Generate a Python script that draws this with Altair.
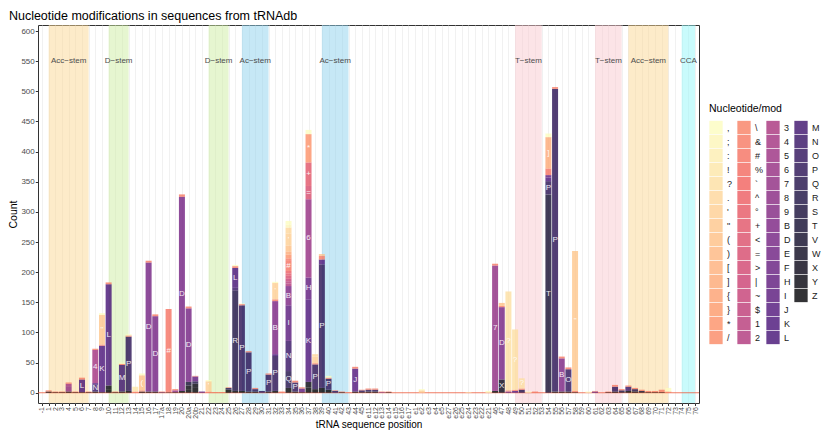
import json
import altair as alt
import pandas as pd

# ---------------- data ----------------
positions = ['-1', '1', '2', '3', '4', '5', '6', '7', '8', '9', '10', '11', '12', '13', '14', '15', '16', '17',
             '17a', '18', '19', '20', '20a', '20b', '21', '22', '23', '24', '25', '26', '27', '28', '29', '30',
             '31', '32', '33', '34', '35', '36', '37', '38', '39', '40', '41', '42', '43', '44', '45',
             'e11', 'e12', 'e13', 'e14', 'e15', 'e16', 'e17', 'e1', 'e2', 'e3', 'e4', 'e5',
             'e27', 'e26', 'e25', 'e24', 'e23', 'e22', 'e21',
             '46', '47', '48', '49', '50', '51', '52', '53', '54', '55', '56', '57', '58', '59', '60',
             '61', '62', '63', '64', '65', '66', '67', '68', '69', '70', '71', '72', '73', '74', '75', '76']

mods_col1 = [',', ';', ':', '!', '?', '.', "'", '"', '(', ')', '[', ']', '{', '}', '*', '/']
mods_col2 = ['\\', '&', '#', '%', '`', '^', '°', '+', '<', '=', '>', '|', '~', '$', '1', '2']
mods_col3 = ['3', '4', '5', '6', '7', '8', '9', 'B', 'D', 'E', 'F', 'H', 'I', 'J', 'K', 'L']
mods_col4 = ['M', 'N', 'O', 'P', 'Q', 'R', 'S', 'T', 'V', 'W', 'X', 'Y', 'Z']

# (position, modification, count)
bars_acceptor_d = [
    ('1', 'Z', 2), ('1', '&', 2),
    ('2', 'Z', 1), ('2', '&', 1),
    ('3', 'Z', 1), ('3', '&', 1),
    ('4', 'Z', 2), ('4', '7', 9), ('4', '4', 4), ('4', '&', 2),
    ('5', 'Z', 1), ('5', '&', 1),
    ('6', 'Z', 1), ('6', 'L', 21), ('6', '&', 3),
    ('7', 'Z', 1), ('7', '&', 1),
    ('8', 'Z', 2), ('8', 'N', 12), ('8', 'K', 2), ('8', '4', 55), ('8', '&', 2),
    ('9', 'Z', 1), ('9', 'K', 77), ('9', '&', 2), ('9', '"', 49), ('9', ',', 3),
    ('10', 'Z', 6), ('10', 'Y', 6), ('10', 'L', 168), ('10', '&', 3),
    ('11', 'Z', 1), ('11', '&', 1),
    ('12', 'Z', 2), ('12', 'M', 44), ('12', '&', 2), ('12', ',', 2),
    ('13', 'Y', 3), ('13', 'P', 90), ('13', '&', 2), ('13', ',', 2),
    ('14', '&', 2), ('14', '!', 8),
    ('15', 'Z', 2), ('15', '&', 2), ('15', '(', 25), ('15', ',', 3),
    ('16', 'Z', 2), ('16', 'D', 214), ('16', '&', 3),
    ('17', 'Z', 2), ('17', 'D', 125), ('17', '&', 3),
    ('17a', 'P', 1), ('17a', '&', 1),
    ('18', 'Z', 1), ('18', '#', 138),
    ('19', 'Z', 1), ('19', '7', 3), ('19', '&', 2),
    ('20', 'Z', 3), ('20', 'D', 322), ('20', '&', 4),
    ('20a', 'Z', 6), ('20a', 'Y', 6), ('20a', 'T', 6), ('20a', 'D', 122), ('20a', '&', 3),
    ('20b', 'Z', 8), ('20b', 'Y', 7), ('20b', 'R', 4), ('20b', 'H', 8), ('20b', '&', 1),
]

bars_anticodon = [
    ('21', 'J', 2),
    ('22', '&', 2), ('22', "'", 17), ('22', ',', 2),
    ('23', '&', 1),
    ('24', '&', 1),
    ('25', 'Z', 5), ('25', 'Q', 3), ('25', '&', 1),
    ('26', 'Z', 3), ('26', 'R', 167), ('26', 'N', 4), ('26', 'L', 33), ('26', '&', 3), ('26', ',', 2),
    ('27', 'Z', 3), ('27', 'P', 142), ('27', '&', 2), ('27', ',', 1),
    ('28', 'Z', 2), ('28', 'P', 65), ('28', '&', 2),
    ('29', 'Z', 2), ('29', 'P', 4), ('29', '&', 2),
    ('30', 'P', 3),
    ('31', 'Z', 2), ('31', 'P', 28), ('31', '&', 2),
    ('32', 'Z', 3), ('32', 'P', 58), ('32', 'L', 3), ('32', 'B', 88), ('32', '&', 3), ('32', "'", 27), ('32', ',', 2),
    ('33', '&', 2),
    ('34', 'Z', 8), ('34', 'Q', 28), ('34', 'N', 50), ('34', 'I', 59), ('34', 'B', 32), ('34', '2', 4),
    ('34', '1', 4), ('34', '~', 4), ('34', '=', 5), ('34', '+', 4), ('34', '^', 4), ('34', '#', 18),
    ('34', '&', 3), ('34', '*', 6), ('34', '(', 10), ('34', ']', 5), ('34', "'", 20), ('34', '.', 10),
    ('34', ';', 5), ('34', ',', 6),
    ('35', 'Z', 2), ('35', 'P', 15), ('35', '&', 3),
    ('36', 'Z', 1), ('36', 'H', 6), ('36', '&', 2),
    ('37', 'Z', 9), ('37', 'Y', 9), ('37', 'K', 137), ('37', 'H', 36), ('37', '6', 130), ('37', '=', 22),
    ('37', '+', 39), ('37', '*', 47), ('37', ',', 7),
    ('38', 'Z', 6), ('38', 'P', 41), ('38', '&', 2), ('38', "'", 11), ('38', '.', 4),
    ('39', 'Z', 8), ('39', 'P', 205), ('39', 'K', 8), ('39', '&', 6), ('39', '(', 3),
    ('40', 'Z', 5), ('40', 'P', 18), ('40', '&', 2), ('40', ',', 3),
    ('41', 'P', 3), ('41', '&', 1),
    ('42', 'Z', 1), ('42', '&', 1),
    ('43', '&', 1),
    ('44', 'Z', 2), ('44', 'J', 38), ('44', '&', 3),
    ('45', 'Z', 1), ('45', 'P', 3), ('45', '&', 1),
]

bars_variable_t = [
    ('e11', 'Z', 2), ('e11', 'P', 3), ('e11', '&', 2),
    ('e12', 'Z', 2), ('e12', 'P', 3), ('e12', '&', 2),
    ('e13', 'I', 1), ('e13', '&', 1),
    ('e14', 'Z', 1), ('e14', '&', 1),
    ('e2', "'", 4), ('e2', ',', 2),
    ('e24', ':', 1),
    ('e21', ',', 3),
    ('46', 'Z', 3), ('46', '7', 208), ('46', '&', 3),
    ('47', 'X', 22), ('47', 'D', 120), ('47', '&', 2), ('47', '(', 5),
    ('48', 'J', 2), ('48', '&', 2), ('48', '?', 164),
    ('49', 'J', 3), ('49', '&', 2), ('49', '?', 100),
    ('50', 'Q', 5), ('50', '&', 2), ('50', '?', 17),
    ('51', ',', 2),
    ('52', '&', 2),
    ('54', 'T', 329), ('54', 'P', 22), ('54', 'K', 6), ('54', 'H', 4), ('54', '#', 11), ('54', ']', 52), ('54', ',', 6),
    ('55', 'Z', 2), ('55', 'P', 502), ('55', '&', 3),
    ('56', 'Z', 2), ('56', 'B', 55), ('56', '&', 3),
    ('57', 'Z', 2), ('57', 'O', 37), ('57', '&', 3),
    ('58', 'Z', 1), ('58', '&', 2), ('58', '"', 232),
    ('60', ',', 2),
    ('61', 'J', 2), ('61', '&', 1),
    ('63', 'Z', 1), ('63', '&', 1),
    ('64', 'Z', 2), ('64', 'P', 8), ('64', '&', 3),
    ('65', 'Z', 1), ('65', 'R', 3), ('65', '&', 2),
    ('66', 'Z', 3), ('66', 'N', 7), ('66', '&', 2),
    ('67', 'Z', 2), ('67', 'Q', 4), ('67', '&', 2),
    ('68', 'Z', 1), ('68', 'T', 2), ('68', '&', 2),
    ('69', 'Z', 1), ('69', '&', 2),
    ('70', 'Z', 1), ('70', '&', 2),
    ('71', 'Z', 1), ('71', '&', 4),
    ('72', '&', 2), ('72', ',', 6),
]

stem_names = ['Acc−stem', 'D−stem', 'D−stem', 'Ac−stem', 'Ac−stem', 'T−stem', 'T−stem', 'Acc−stem', 'CCA']
stem_kinds = ['acc', 'd', 'd', 'ac', 'ac', 't', 't', 'acc', 'cca']
stem_start = ['1', '10', '22', '27', '39', '49', '61', '66', '74']
stem_end = ['7', '13', '25', '31', '43', '53', '65', '72', '76']

# ---------------- styles ----------------
stem_kind_order = ['acc', 'd', 'ac', 't', 'cca']
stem_kind_colors = ['#FBD793', '#CDEDA1', '#8DD1ED', '#F9C9CF', '#93F7F9']

magma_anchors = ['#000004', '#180F3E', '#451077', '#721F81', '#9F2F7F',
                 '#CD4071', '#F1605D', '#FD9567', '#FEC98D', '#FCFDBF']


def magma(t):
    seg = t * (len(magma_anchors) - 1)
    i = min(int(seg), len(magma_anchors) - 2)
    f = seg - i
    a = magma_anchors[i]
    b = magma_anchors[i + 1]
    out = []
    for k in (1, 3, 5):
        ca = int(a[k:k + 2], 16)
        cb = int(b[k:k + 2], 16)
        out.append(round(ca + (cb - ca) * f))
    return '#%02X%02X%02X' % tuple(out)


mod_levels = mods_col1 + mods_col2 + mods_col3 + mods_col4
n_lev = len(mod_levels)
mod_color = {m: magma(1 - k / (n_lev - 1)) for k, m in enumerate(mod_levels)}
legend_cols = [mods_col1, mods_col2, mods_col3, mods_col4]
legend_col_x = [671, 699, 728, 756]   # legend column offsets from the plot's left edge
LEGEND_Y = 79

# ---------------- tables ----------------
rows = []
for p, m, n in bars_acceptor_d + bars_anticodon + bars_variable_t:
    rows.append({'idx': positions.index(p), 'pos': p, 'mod': m, 'n': n, 'level': mod_levels.index(m)})
df = pd.DataFrame(rows)

stems = pd.DataFrame({
    'name': stem_names,
    'kind': stem_kinds,
    's': [positions.index(p) for p in stem_start],
    'e': [positions.index(p) for p in stem_end],
})

FONT = 'Liberation Sans'
x_scale = alt.Scale(domain=[-0.6, len(positions) - 0.4], nice=False, zero=False)
y_scale = alt.Scale(domain=[-17, 610], nice=False, zero=False)

x_axis = alt.Axis(
    values=list(range(len(positions))),
    labelExpr=json.dumps(positions) + '[datum.value]',
    labelAngle=-90, labelFontSize=7, labelOverlap=False, labelFlush=False,
    labelPadding=1, tickSize=2.5, title='tRNA sequence position', titlePadding=1, titleFontSize=10,
    gridColor='#EBEBEB', gridWidth=0.7,
)
y_axis = alt.Axis(
    values=list(range(-25, 601, 25)),
    labelExpr="datum.value >= 0 && datum.value % 50 === 0 ? datum.label : ''",
    tickOpacity={'condition': {'test': 'datum.value >= 0 && datum.value % 50 === 0', 'value': 1}, 'value': 0},
    gridWidth={'condition': {'test': 'datum.value % 50 === 0', 'value': 0.8}, 'value': 0.45},
    gridColor='#EBEBEB', labelFontSize=8, labelPadding=1, tickSize=2.75,
    title='Count', titlePadding=2, titleFontSize=10.5,
)

stem_rects = alt.Chart(stems).mark_rect(opacity=0.5).encode(
    x=alt.X('s:Q', scale=x_scale, axis=x_axis),
    x2='e:Q',
    fill=alt.Fill('kind:N', scale=alt.Scale(domain=stem_kind_order, range=stem_kind_colors), legend=None),
)

zero_line = alt.Chart(pd.DataFrame({'k': [0]})).mark_rule(color='#EC5B3D', strokeWidth=0.8).encode(
    y=alt.datum(0, scale=y_scale, axis=y_axis)
)

stacked = alt.Chart(df).transform_stack(
    stack='n', groupby=['idx'], as_=['y0', 'y1'],
    sort=[alt.SortField('level', order='descending')],
).transform_calculate(
    x0='datum.idx - 0.45', x1='datum.idx + 0.45', ymid='(datum.y0 + datum.y1) / 2'
)

bars = stacked.mark_rect(opacity=0.8).encode(
    x=alt.X('x0:Q', scale=x_scale, axis=x_axis),
    x2='x1:Q',
    y=alt.Y('y0:Q', scale=y_scale, axis=y_axis),
    y2='y1:Q',
    color=alt.Color('mod:N', scale=alt.Scale(domain=mod_levels, range=[mod_color[m] for m in mod_levels]),
                    legend=None),
)

bar_labels = stacked.transform_filter('datum.n >= 12').mark_text(
    color='white', fontSize=8, opacity=0.9, font=FONT
).encode(
    x=alt.X('idx:Q', scale=x_scale, axis=x_axis),
    y=alt.Y('ymid:Q', scale=y_scale, axis=y_axis),
    text='mod:N',
)

stem_labels = alt.Chart(stems).transform_calculate(mid='(datum.s + datum.e) / 2').mark_text(
    fontSize=8, color='#4D4D4D', font=FONT
).encode(
    x=alt.X('mid:Q', scale=x_scale, axis=x_axis),
    y=alt.datum(550, scale=y_scale, axis=y_axis),
    text='name:N',
)

# one legend per column of the reference legend (no marks drawn, only guides)
legend_layers = []
for k, (col, lx) in enumerate(zip(legend_cols, legend_col_x)):
    legend_layers.append(
        alt.Chart(df).transform_filter('false').mark_rect().encode(
            color=alt.Color('mod:N',
                            scale=alt.Scale(domain=col, range=[mod_color[m] for m in col]),
                            legend=alt.Legend(
                                title='Nucleotide/mod' if k == 0 else '\u00a0',
                                orient='none', legendX=lx, legendY=LEGEND_Y,
                                symbolType='square', symbolSize=177, symbolStrokeWidth=0,
                                symbolOpacity=0.8, symbolLimit=100, rowPadding=0,
                                labelFontSize=9, labelOffset=4, labelColor='#1A1A1A',
                                titleFontSize=10.5, titleFontWeight='normal', titlePadding=6,
                                titleColor='#000000', titleLimit=200,
                            ))
        )
    )

chart = alt.layer(stem_rects, zero_line, bars, bar_labels, stem_labels, *legend_layers).resolve_scale(
    color='independent'
).properties(
    width=661, height=378,
    padding={'left': 0, 'top': 1, 'right': 0, 'bottom': 0},
    title=alt.TitleParams('Nucleotide modifications in sequences from tRNAdb', anchor='start',
                          fontSize=12.5, fontWeight='normal', color='#000000', offset=3, font=FONT),
).configure_axis(
    labelFont=FONT, titleFont=FONT, labelColor='#4D4D4D', tickColor='#333333',
    domain=False, titleFontWeight='normal', titleColor='#000000',
).configure_legend(
    labelFont=FONT, titleFont=FONT,
).configure_view(
    stroke='#333333', strokeWidth=1,
)

chart.save('out.html', embed_options={'renderer': 'svg', 'actions': False})
